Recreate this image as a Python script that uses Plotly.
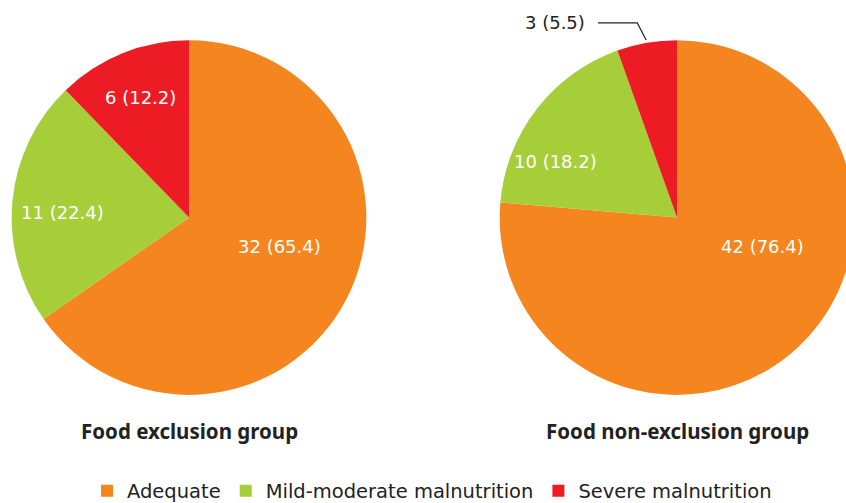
import math
import plotly.graph_objects as go

categories = ["Adequate", "Mild-moderate malnutrition", "Severe malnutrition"]
exclusion_counts = [32, 11, 6]
exclusion_pct = [65.4, 22.4, 12.2]
nonexclusion_counts = [42, 10, 3]
nonexclusion_pct = [76.4, 18.2, 5.5]
group_titles = ["Food exclusion group", "Food non-exclusion group"]
colors = ["#F5861F", "#A6CE39", "#ED1C24"]

# layout: label positions (px) for each pie's slice labels
label_px = [[(279, 247), (62, 213), (140, 98)],
            [(762, 247), (555, 162), None]]

W = 870          # layout width (right pie runs past the window edge)
LH = 511         # layout height
H = 503          # target picture height
R = 180.5
centers = [(189, 218), (677, 218)]
FONT = "DejaVu Sans"

def fx(x):
    return x / W

def fy(y):
    return 1 - y / H

def dom(cx, cy):
    yc = fy(cy)
    return dict(x=[(cx - R) / W, (cx + R) / W], y=[yc - R / LH, yc + R / LH])

fig = go.Figure()
for i, (counts, pct) in enumerate([(exclusion_counts, exclusion_pct),
                                     (nonexclusion_counts, nonexclusion_pct)]):
    fig.add_trace(go.Pie(
        labels=categories, values=counts,
        textinfo="none",
        sort=False, direction="clockwise", rotation=0,
        marker=dict(colors=colors, line=dict(width=0)),
        domain=dom(*centers[i]), showlegend=(i == 0), hoverinfo="label+value",
    ))
    for j, (c, p) in enumerate(zip(counts, pct)):
        pos = label_px[i][j]
        if pos is None:
            continue
        fig.add_annotation(text=f"{c} ({p})", x=fx(pos[0]), y=fy(pos[1]),
                           xref="paper", yref="paper", xanchor="center", yanchor="middle",
                           showarrow=False, font=dict(size=18, color="white", family=FONT))
    fig.add_annotation(text=f"<b>{group_titles[i]}</b>", x=fx(centers[i][0]), y=fy(432),
                       xref="paper", yref="paper", xanchor="center", yanchor="middle",
                       showarrow=False,
                       font=dict(size=20.5, color="#222222", family="Noto Sans"))

# outside label for the small slice of the non-exclusion pie
tot = sum(nonexclusion_counts)
start = sum(nonexclusion_counts[:-1]) / tot
mid = (start + 1) / 2 * 2 * math.pi
cx, cy = centers[1]
px = cx + R * math.sin(mid)
py = cy - R * math.cos(mid)
fig.add_shape(type="path", xref="paper", yref="paper",
              path=f"M {fx(598)} {fy(23)} L {fx(px - 9)} {fy(23)} L {fx(px)} {fy(py)}",
              line=dict(color="#222222", width=1.2))
fig.add_annotation(text=f"{nonexclusion_counts[-1]} ({nonexclusion_pct[-1]})", x=fx(587), y=fy(23),
                   xref="paper", yref="paper", xanchor="right", yanchor="middle", showarrow=False,
                   font=dict(size=18, color="#222222", family=FONT))

fig.update_layout(
    width=W, height=LH, margin=dict(l=0, r=0, t=0, b=0),
    paper_bgcolor="white", plot_bgcolor="white",
    legend=dict(orientation="h", x=fx(432), xanchor="center", y=fy(492), yanchor="middle",
                font=dict(size=19.5, color="#222222", family=FONT), itemwidth=30,
                traceorder="normal"),
)
post = ("document.body.style.margin='0';"
        "var gd=document.getElementById('{plot_id}');"
        "gd.parentElement.style.width='846px';"
        "gd.parentElement.style.overflow='hidden';"
        "document.documentElement.style.overflow='hidden';")
fig.write_html("out.html", config={"displayModeBar": False}, post_script=post)
